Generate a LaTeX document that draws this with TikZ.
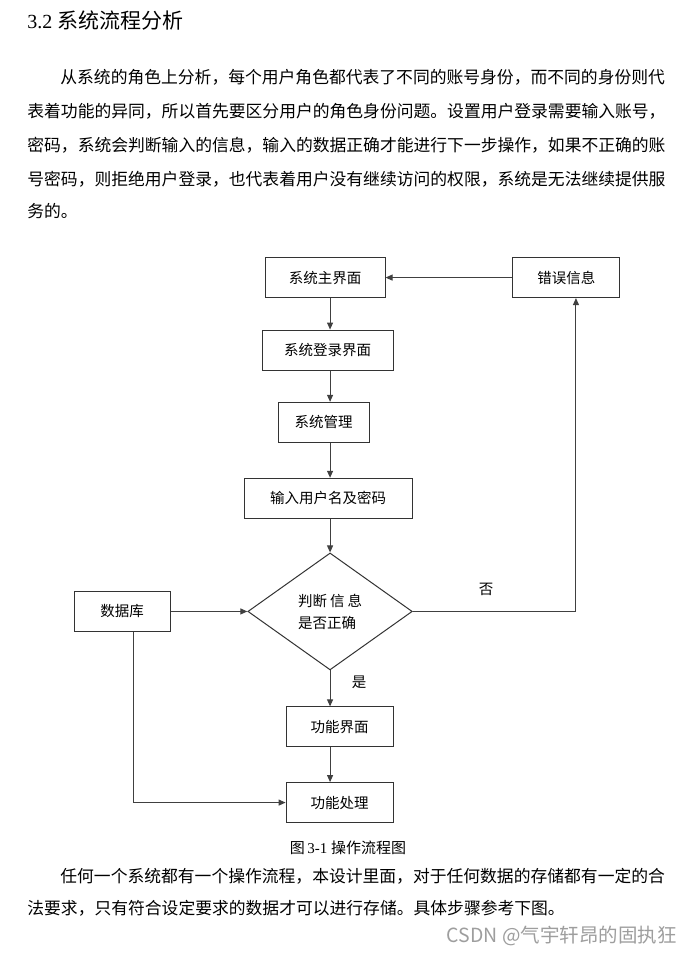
\documentclass[tikz,border=0pt]{standalone}
\usepackage{fontspec}
\setmainfont{Liberation Serif}
\newfontfamily\cjk{Noto Sans CJK SC}
\usetikzlibrary{arrows, arrows.meta, shapes.geometric}
\XeTeXlinebreaklocale "zh"
\XeTeXlinebreakskip=0pt plus 2pt
\setlength\parindent{0pt}
\newcommand\bodyfont{\cjk\fontsize{16.8}{20}\selectfont}
\newcommand\boxfont{\cjk\fontsize{14.5}{22}\selectfont}

\begin{document}
\begin{tikzpicture}[x=1pt, y=-1pt,
  box/.style={draw=black!80, line width=1pt, minimum height=40pt, inner sep=0pt, font=\boxfont},
  flow/.style={draw=black!75, line width=1pt, -{Triangle[length=7pt, width=6pt]}},
  txt/.style={anchor=west, inner sep=0pt, font=\bodyfont},
  jtxt/.style={txt, text width=#1, align=justify}]
\draw[fill=white, white] (0,0) rectangle (691,954);
\useasboundingbox (0,0) rectangle (691,954);

% text above the chart
\node[anchor=west, inner sep=0pt, font=\fontsize{20}{20}\selectfont] (title) at (27,20) {3.2 {\cjk\fontsize{21}{21}\selectfont 系统流程分析}};
\node[jtxt=608pt] (p1a) at (60,77.5) {\parfillskip=0pt 从系统的角色上分析，每个用户角色都代表了不同的账号身份，而不同的身份则代};
\node[jtxt=641pt] (p1b) at (27,111.5) {\parfillskip=0pt 表着功能的异同，所以首先要区分用户的角色身份问题。设置用户登录需要输入账号，};
\node[jtxt=641pt] (p1c) at (27,145) {\parfillskip=0pt 密码，系统会判断输入的信息，输入的数据正确才能进行下一步操作，如果不正确的账};
\node[jtxt=641pt] (p1d) at (27,179) {\parfillskip=0pt 号密码，则拒绝用户登录，也代表着用户没有继续访问的权限，系统是无法继续提供服};
\node[txt] (p1e) at (27,211) {务的。};

% flow chart
\node[box, minimum width=120pt] (zhujm) at (325,277.5) {系统主界面};
\node[box, minimum width=107pt] (cuowu) at (566.5,277.5) {错误信息};
\node[box, minimum width=131pt] (denglu) at (327.5,350) {系统登录界面};
\node[box, minimum width=91pt] (guanli) at (323.5,422.3) {系统管理};
\node[box, minimum width=168pt] (shuru) at (328,498.3) {输入用户名及密码};
\node[draw=black!80, line width=1pt, diamond, minimum width=164.5pt, minimum height=117pt, inner sep=0pt, align=left, font=\boxfont] (panduan) at (330,611.5) {判断\hspace{3pt}信\hspace{3pt}息\\是否正确};
\node[box, minimum width=96pt] (shujuku) at (122,611.5) {数据库};
\node[box, minimum width=107pt] (gnjm) at (339.5,727) {功能界面};
\node[box, minimum width=107pt] (gncl) at (339.5,802.7) {功能处理};

\draw[flow] (cuowu.west) -- (zhujm.east);
\draw[flow] (zhujm.south -| panduan.north) -- (denglu.north -| panduan.north);
\draw[flow] (denglu.south -| panduan.north) -- (guanli.north -| panduan.north);
\draw[flow] (guanli.south -| panduan.north) -- (shuru.north -| panduan.north);
\draw[flow] (shuru.south -| panduan.north) -- (panduan.north);
\draw[flow] (shujuku.east) -- (panduan.west);
\draw[flow] (panduan.east) -| ([xshift=9.5pt]cuowu.south);
\draw[flow] (panduan.south) -- (gnjm.north -| panduan.south);
\draw[flow] (gnjm.south -| panduan.south) -- (gncl.north -| panduan.south);
\draw[flow] ([xshift=11pt]shujuku.south) |- (gncl.west);

\node[font=\boxfont, inner sep=0pt] (fou) at (486,589.3) {否};
\node[font=\boxfont, inner sep=0pt] (shi) at (359,682.7) {是};

% caption and text below
\node[inner sep=0pt, font=\fontsize{15}{15}\selectfont] (caption) at (348,848) {{\cjk 图}\,3-1 {\cjk 操作流程图}};
\node[jtxt=609pt] (p2a) at (60,876) {\parfillskip=0pt 任何一个系统都有一个操作流程，本设计里面，对于任何数据的存储都有一定的合};
\node[jtxt=556pt] (p2b) at (27,908) {\parfillskip=0pt 法要求，只有符合设定要求的数据才可以进行存储。具体步骤参考下图。};
\node[anchor=east, inner sep=0pt, text=black!38, font=\cjk\fontsize{19.5}{19.5}\selectfont] (mark) at (677,936) {CSDN @气宇轩昂的固执狂};
\end{tikzpicture}
\end{document}
